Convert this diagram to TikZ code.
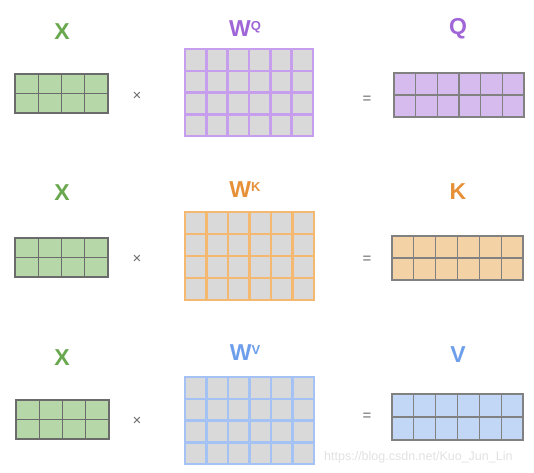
\documentclass[tikz,border=0pt]{standalone}
\usepackage{fontspec}
\setmainfont{Liberation Sans}
\definecolor{xgreen}{HTML}{6AA84F}
\definecolor{xfill}{HTML}{B6D7A8}
\definecolor{cellgray}{HTML}{D9D9D9}
\definecolor{edgegray}{HTML}{6B6B6B}
\definecolor{qlabel}{HTML}{A066D8}
\definecolor{qedge}{HTML}{C79DEE}
\definecolor{qfill}{HTML}{D5BBEE}
\definecolor{klabel}{HTML}{E69138}
\definecolor{kedge}{HTML}{F4B871}
\definecolor{kfill}{HTML}{F3D2A5}
\definecolor{vlabel}{HTML}{6D9EEB}
\definecolor{vedge}{HTML}{A4C2F4}
\definecolor{vfill}{HTML}{C2D6F5}
\definecolor{wmark}{HTML}{E2E2E2}
\tikzset{
  lab/.style={font=\fontsize{23}{23}\selectfont\bfseries, inner sep=0pt},
  op/.style={font=\fontsize{15}{15}\selectfont, text=edgegray, inner sep=0pt},
  wmk/.style={font=\fontsize{12.5}{12.5}\selectfont, text=wmark, inner sep=0pt, anchor=west}
}
% x0 y0 x1 y1 ncol nrow fill draw linewidth
\newcommand\gridmat[9]{%
  \fill[#7] (#1,#2) rectangle (#3,#4);
  \foreach \k in {1,...,#5}{\draw[#8, line width=#9]
    ({#1+(#3-#1)*\k/(#5+1)},#2) -- ({#1+(#3-#1)*\k/(#5+1)},#4);}
  \foreach \k in {1,...,#6}{\draw[#8, line width=#9]
    (#1,{#2+(#4-#2)*\k/(#6+1)}) -- (#3,{#2+(#4-#2)*\k/(#6+1)});}
  \draw[#8, line width=#9] (#1,#2) rectangle (#3,#4);
}
\newcommand\wlab[2]{W\raisebox{0.28em}{\fontsize{13}{13}\selectfont #2}}
\begin{document}
\begin{tikzpicture}[x=1pt,y=-1pt]
\useasboundingbox[fill=white] (0,0) rectangle (534,472);
% ---------- row Q ----------
\node[lab, text=xgreen] (x1) at (62,32) {X};
\gridmat{15}{74}{108}{113}{3}{1}{xfill}{edgegray}{1.1pt}
\node[op] (t1) at (137,96) {×};
\node[lab, text=qlabel] (wq) at (245,29) {\wlab{}{Q}};
\gridmat{185}{49}{313}{136}{5}{3}{cellgray}{qedge}{2.5pt}
\node[op] (e1) at (367,100) {=};
\node[lab, text=qlabel] (q) at (458,29) {Q};
\gridmat{394}{73}{524}{117}{5}{1}{qfill}{edgegray!85}{1.1pt}
% ---------- row K ----------
\node[lab, text=xgreen] (x2) at (62,193) {X};
\gridmat{15}{238}{108}{277}{3}{1}{xfill}{edgegray}{1.1pt}
\node[op] (t2) at (137,259) {×};
\node[lab, text=klabel] (wk) at (245,190) {\wlab{}{K}};
\gridmat{185}{212}{314}{300}{5}{3}{cellgray}{kedge}{2.5pt}
\node[op] (e2) at (367,260) {=};
\node[lab, text=klabel] (k) at (458,192) {K};
\gridmat{392}{236}{523}{280}{5}{1}{kfill}{edgegray!85}{1.1pt}
% ---------- row V ----------
\node[lab, text=xgreen] (x3) at (62,358) {X};
\gridmat{16}{400}{109}{439}{3}{1}{xfill}{edgegray}{1.1pt}
\node[op] (t3) at (137,421) {×};
\node[lab, text=vlabel] (wv) at (245,353) {\wlab{}{V}};
\gridmat{185}{377}{314}{464}{5}{3}{cellgray}{vedge}{2.5pt}
\node[op] (e3) at (367,417) {=};
\node[lab, text=vlabel] (v) at (458,355) {V};
\gridmat{392}{394}{523}{440}{5}{1}{vfill}{edgegray!85}{1.1pt}
% watermark
\node[wmk] (wm) at (324,457) {https://blog.csdn.net/Kuo\_Jun\_Lin};
\end{tikzpicture}
\end{document}
